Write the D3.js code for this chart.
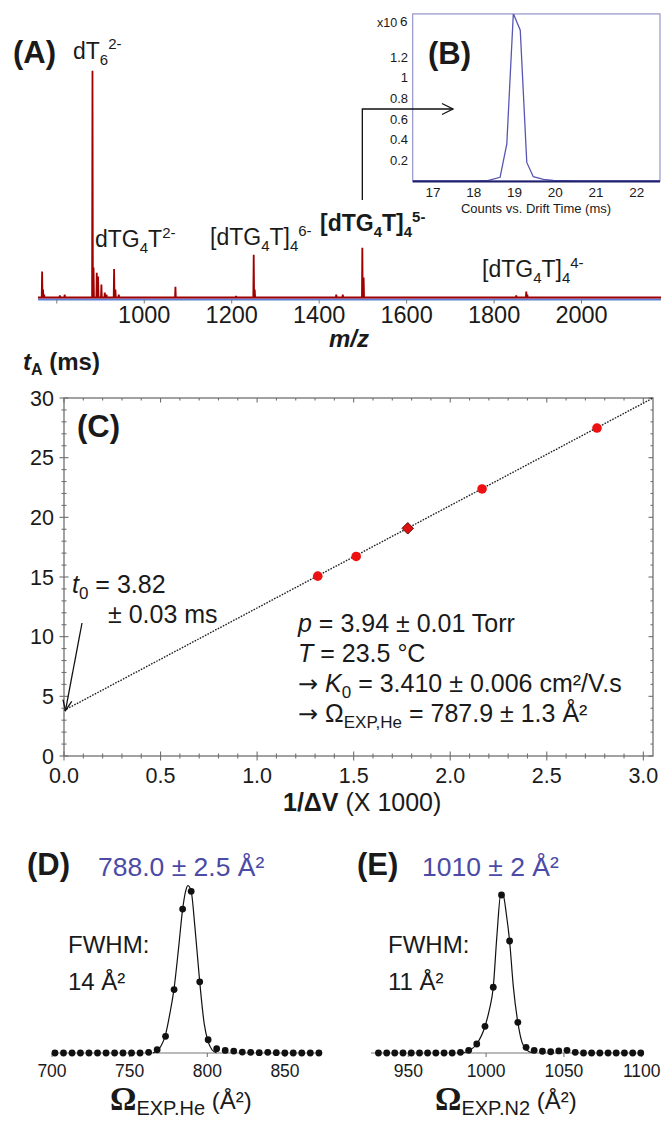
<!DOCTYPE html>
<html><head><meta charset="utf-8">
<script src="https://cdn.jsdelivr.net/npm/d3@7/dist/d3.min.js"></script>
<style>
html,body{margin:0;padding:0;background:#fff;}
svg{display:block;font-family:'Liberation Sans',Arial,Helvetica,sans-serif;}
</style></head><body>
<svg id="fig" width="661" height="1121"></svg>
<script>
// ---------- Panel A: mass spectrum ----------
const specMz  = [766.4, 768.5, 771, 807, 818, 881.6, 884, 891.4, 894.4, 902, 909.7, 913.6, 931, 934, 941.7, 1071.3, 1210, 1250.3, 1252.6, 1439, 1454, 1498.7, 1501.7, 1850.7, 1873.6, 1876];
const specInt = [11.5, 3.5, 1.3, 0.9, 1.3, 100, 13.2, 10.9, 9.3, 5.7, 2.2, 1.3, 12.6, 3.5, 1.3, 4.7, 0.7, 18.9, 3.5, 1.3, 1.3, 21.9, 8.8, 0.9, 2.6, 1.3];
const mzTickMarks = [800, 1000, 1200, 1400, 1600, 1800, 2000];
const mzTickLabels = [1000, 1200, 1400, 1600, 1800, 2000];
const mzDomain = [757, 2184];
const selectedPeakMz = 1498.7;

// ---------- Panel B: arrival time distribution ----------
const driftTime = [16.5, 18.0, 18.36, 18.645, 18.81, 18.97, 19.14, 19.3, 19.46, 19.71, 19.95, 20.5, 22.57];
const driftCounts = [0, 0, 0.007, 0.036, 0.36, 1.62, 1.46, 0.18, 0.042, 0.016, 0.007, 0, 0];
const driftXTicks = [17, 18, 19, 20, 21, 22];
const driftYTicks = [0.2, 0.4, 0.6, 0.8, 1, 1.2];
const driftYLabels = ["0.2", "0.4", "0.6", "0.8", "1", "1.2"];

// ---------- Panel C: tA vs 1/ΔV ----------
const invDV = [1.314, 1.513, 2.165, 2.76];
const tA = [15.07, 16.72, 22.38, 27.48];
const diamondInvDV = [1.78];
const diamondTA = [19.08];
const fitInvDV = [0, 3.05];
const fitTA = [3.82, 30];
const cXTicks = [0, 0.5, 1.0, 1.5, 2.0, 2.5, 3.0];
const cYTicks = [0, 5, 10, 15, 20, 25, 30];

// ---------- Panel D: CCS distribution in He ----------
const ccsHe = [701.9, 707.4, 712.9, 718.3, 723.8, 729.3, 734.8, 740.3, 745.7, 751.2, 756.7, 762.2, 767.7, 773.1, 778.6, 784.1, 789.6, 795.1, 800.5, 806.0, 811.5, 817.0, 822.5, 827.9, 833.4, 838.9, 844.4, 849.9, 855.3, 860.8, 866.3, 871.8];
const intHe = [0, 0, 0, 0, 0, 0, 0, 0, 0, 0, 0, 0.004, 0.02, 0.103, 0.392, 0.89, 1.0, 0.44, 0.082, 0.027, 0.016, 0.012, 0.006, 0.004, 0.002, 0.004, 0.002, 0, 0, 0, 0, 0];
const fitHeX = [765, 770, 773, 776, 778.6, 781.5, 784.1, 786, 787.5, 789.6, 792, 795.1, 798, 800.5, 803, 806];
const fitHeY = [0, 0.04, 0.11, 0.25, 0.40, 0.65, 0.89, 1.0, 1.035, 1.0, 0.78, 0.44, 0.18, 0.07, 0.02, 0];
const dTicks = [700, 750, 800, 850];

// ---------- Panel E: CCS distribution in N2 ----------
const ccsN2 = [930.8, 936.1, 941.3, 946.6, 951.9, 957.2, 962.4, 967.7, 973.0, 978.2, 983.5, 988.8, 994.0, 999.3, 1004.6, 1009.9, 1015.1, 1020.4, 1025.7, 1030.9, 1036.2, 1041.5, 1046.7, 1052.0, 1057.3, 1062.6, 1067.8, 1073.1, 1078.4, 1083.6, 1088.9, 1094.2, 1099.4];
const intN2 = [0, 0, 0, 0, 0, 0, 0, 0, 0, 0, 0.004, 0.017, 0.057, 0.169, 0.416, 1.0, 0.709, 0.194, 0.036, 0.017, 0.011, 0.008, 0.013, 0.017, 0.004, 0, 0, 0, 0, 0, 0, 0, 0];
const fitN2X = [985, 990, 994, 999.3, 1002, 1004.6, 1007, 1009.5, 1011, 1013, 1015.1, 1017.5, 1020.4, 1023, 1026, 1030];
const fitN2Y = [0, 0.02, 0.057, 0.169, 0.27, 0.416, 0.75, 1.01, 1.0, 0.88, 0.709, 0.42, 0.194, 0.07, 0.02, 0];
const eTicks = [950, 1000, 1050, 1100];

// =====================================================
const svg = d3.select('#fig');
const SERIF = "'Liberation Serif','Times New Roman',serif";
const ARROWFONT = "'DejaVu Sans',sans-serif";
const TXT = '#1a1a1a';

// rich text helper: segs = [{t, size, off, weight, style, family, fill}]
function rich(g, x, y, segs, opt) {
  opt = opt || {};
  const t = g.append('text').attr('x', x).attr('y', y)
    .attr('font-size', opt.size || 20).attr('fill', opt.fill || TXT)
    .attr('font-weight', opt.weight || 'normal')
    .attr('text-anchor', opt.anchor || 'start');
  if (opt.family) t.attr('font-family', opt.family);
  let cur = 0;
  segs.forEach(s => {
    const off = s.off || 0;
    const ts = t.append('tspan').attr('dy', off - cur).text(s.t);
    if (s.size) ts.attr('font-size', s.size);
    if (s.weight) ts.attr('font-weight', s.weight);
    if (s.style) ts.attr('font-style', s.style);
    if (s.family) ts.attr('font-family', s.family);
    if (s.fill) ts.attr('fill', s.fill);
    if (s.dx) ts.attr('dx', s.dx);
    cur = off;
  });
  return t;
}

// ---------------- Panel A ----------------
const gA = svg.append('g');
const xA = d3.scaleLinear().domain(mzDomain).range([38, 662]);
const yA = d3.scaleLinear().domain([0, 100]).range([297.5, 70.7]);

gA.append('line').attr('x1', xA(mzDomain[0])).attr('x2', xA(mzDomain[1]))
  .attr('y1', yA(0) + 2).attr('y2', yA(0) + 2)
  .attr('stroke', '#5b7fd6').attr('stroke-width', 2);

gA.selectAll('line.mztick').data(mzTickMarks).enter().append('line')
  .attr('x1', d => xA(d)).attr('x2', d => xA(d))
  .attr('y1', yA(0) + 2).attr('y2', yA(0) + 6)
  .attr('stroke', '#777').attr('stroke-width', 1);

const specPts = [[mzDomain[0], 0]];
specMz.map((m, i) => [m, specInt[i]]).sort((a, b) => a[0] - b[0]).forEach(p => {
  specPts.push([p[0] - 0.9, 0], [p[0], p[1]], [p[0] + 0.9, 0]);
});
specPts.push([mzDomain[1], 0]);
gA.append('path').datum(specPts)
  .attr('d', d3.line().x(d => xA(d[0])).y(d => yA(d[1])))
  .attr('fill', 'none').attr('stroke', '#a00000').attr('stroke-width', 1.8)
  .attr('stroke-linejoin', 'miter');

gA.selectAll('text.mzlab').data(mzTickLabels).enter().append('text')
  .attr('x', d => xA(d)).attr('y', 323).attr('text-anchor', 'middle')
  .attr('font-size', 23.5).attr('fill', TXT).text(d => d);

gA.append('text').attr('x', 349).attr('y', 347).attr('text-anchor', 'middle')
  .attr('font-size', 24).attr('font-weight', 'bold').attr('font-style', 'italic')
  .attr('fill', TXT).text('m/z');

rich(gA, 13, 63, [{t: '(A)'}], {size: 31, weight: 'bold'});
rich(gA, 73, 59, [{t: 'dT'}, {t: '6', size: 15, off: 6}, {t: '2-', size: 15, off: -10}], {size: 23});
rich(gA, 95, 247, [{t: 'dTG'}, {t: '4', size: 15, off: 6}, {t: 'T'}, {t: '2-', size: 15, off: -9}], {size: 23});
rich(gA, 210, 245, [{t: '[dTG'}, {t: '4', size: 15, off: 6}, {t: 'T]'}, {t: '4', size: 15, off: 6}, {t: '6-', size: 15, off: -9}], {size: 23});
rich(gA, 320, 231, [{t: '[dTG'}, {t: '4', size: 15, off: 6}, {t: 'T]'}, {t: '4', size: 15, off: 6}, {t: '5-', size: 15, off: -9}], {size: 23, weight: 'bold'});
rich(gA, 482, 277, [{t: '[dTG'}, {t: '4', size: 15, off: 6}, {t: 'T]'}, {t: '4', size: 15, off: 6}, {t: '4-', size: 15, off: -9}], {size: 23});

// ---------------- Panel B ----------------
const gB = svg.append('g');
const xB = d3.scaleLinear().domain([16.5, 22.57]).range([412.7, 660]);
const yB = d3.scaleLinear().domain([0, 1.2]).range([181, 57]);
const topB = yB(1.617);
gB.append('rect').attr('x', xB(16.5)).attr('y', topB)
  .attr('width', xB(22.57) - xB(16.5)).attr('height', yB(0) - topB)
  .attr('fill', '#fff').attr('stroke', '#9494cc').attr('stroke-width', 1.2);
gB.append('clipPath').attr('id', 'clipB').append('rect')
  .attr('x', xB(16.5)).attr('y', topB).attr('width', xB(22.57) - xB(16.5)).attr('height', yB(0) - topB + 1);
gB.append('path').datum(driftTime.map((d, i) => [d, driftCounts[i]]))
  .attr('clip-path', 'url(#clipB)')
  .attr('d', d3.line().x(d => xB(d[0])).y(d => yB(d[1])))
  .attr('fill', 'none').attr('stroke', '#5757b3').attr('stroke-width', 1.3);
gB.append('line').attr('x1', xB(16.5)).attr('x2', xB(22.57))
  .attr('y1', yB(0) + 0.5).attr('y2', yB(0) + 0.5)
  .attr('stroke', '#1f1f6b').attr('stroke-width', 2);
gB.selectAll('text.by').data(driftYTicks).enter().append('text')
  .attr('x', 408).attr('y', d => yB(d)).attr('dy', '0.36em').attr('text-anchor', 'end')
  .attr('font-size', 13).attr('fill', TXT).text((d, i) => driftYLabels[i]);
gB.selectAll('text.bx').data(driftXTicks).enter().append('text')
  .attr('x', d => xB(d)).attr('y', 197).attr('text-anchor', 'middle')
  .attr('font-size', 13.5).attr('fill', TXT).text(d => d);
gB.append('text').attr('x', 536).attr('y', 213).attr('text-anchor', 'middle')
  .attr('font-size', 13).attr('fill', TXT).text('Counts vs. Drift Time (ms)');
gB.append('text').attr('x', 377).attr('y', 27).attr('font-size', 12.5).attr('fill', TXT).text('x10');
gB.append('text').attr('x', 400).attr('y', 26).attr('font-size', 13.5).attr('fill', TXT).text('6');
rich(gB, 428, 64, [{t: '(B)'}], {size: 31, weight: 'bold'});

// arrow from selected peak to inset
const ax = xA(selectedPeakMz);
svg.append('path').attr('d', `M${ax},200 V109 H453`)
  .attr('fill', 'none').attr('stroke', '#111').attr('stroke-width', 1.3);
svg.append('path').attr('d', 'M442,103.5 L453,109 L442,114.5')
  .attr('fill', 'none').attr('stroke', '#111').attr('stroke-width', 1.3);

// ---------------- Panel C ----------------
const gC = svg.append('g');
const xC = d3.scaleLinear().domain([0, 3.05]).range([64, 653]);
const yC = d3.scaleLinear().domain([0, 30]).range([756, 398]);
const AX = '#707070';
gC.append('rect').attr('x', xC(0)).attr('y', yC(30))
  .attr('width', xC(3.05) - xC(0)).attr('height', yC(0) - yC(30))
  .attr('fill', 'none').attr('stroke', AX).attr('stroke-width', 1.3);

const xMinor = d3.range(0, 31).map(i => i / 10);
const yMinor = d3.range(0, 31);
xMinor.forEach((v, i) => {
  const major = i % 5 === 0;
  const L = major ? 4.5 : 2.5;
  gC.append('line').attr('x1', xC(v)).attr('x2', xC(v))
    .attr('y1', yC(0) - L).attr('y2', yC(0) + L).attr('stroke', AX).attr('stroke-width', 1.1);
  gC.append('line').attr('x1', xC(v)).attr('x2', xC(v))
    .attr('y1', yC(30)).attr('y2', yC(30) + L).attr('stroke', AX).attr('stroke-width', 1.1);
});
yMinor.forEach((v, i) => {
  const major = i % 5 === 0;
  const L = major ? 4.5 : 2.5;
  gC.append('line').attr('x1', xC(0) - L).attr('x2', xC(0) + L)
    .attr('y1', yC(v)).attr('y2', yC(v)).attr('stroke', AX).attr('stroke-width', 1.1);
  gC.append('line').attr('x1', xC(3.05) - L).attr('x2', xC(3.05))
    .attr('y1', yC(v)).attr('y2', yC(v)).attr('stroke', AX).attr('stroke-width', 1.1);
});
gC.selectAll('text.cx').data(cXTicks).enter().append('text')
  .attr('x', d => xC(d)).attr('y', 783).attr('text-anchor', 'middle')
  .attr('font-size', 21.5).attr('fill', TXT).text(d => d.toFixed(1));
gC.selectAll('text.cy').data(cYTicks).enter().append('text')
  .attr('x', 54).attr('y', d => yC(d)).attr('dy', '0.36em').attr('text-anchor', 'end')
  .attr('font-size', 21.5).attr('fill', TXT).text(d => d);

gC.append('path').datum(fitInvDV.map((d, i) => [d, fitTA[i]]))
  .attr('d', d3.line().x(d => xC(d[0])).y(d => yC(d[1])))
  .attr('fill', 'none').attr('stroke', '#222').attr('stroke-width', 1.4)
  .attr('stroke-dasharray', '1.6,1.3');
gC.selectAll('circle.pt').data(invDV.map((d, i) => [d, tA[i]])).enter().append('circle')
  .attr('cx', d => xC(d[0])).attr('cy', d => yC(d[1])).attr('r', 4.8)
  .attr('fill', '#ee1111');
gC.selectAll('path.dia').data(diamondInvDV.map((d, i) => [d, diamondTA[i]])).enter().append('path')
  .attr('d', d3.symbol().type(d3.symbolDiamond2 || d3.symbolDiamond).size(85))
  .attr('transform', d => `translate(${xC(d[0])},${yC(d[1])})`)
  .attr('fill', '#e01010').attr('stroke', '#5a1010').attr('stroke-width', 1);

rich(gC, 23, 370, [{t: 't', style: 'italic'}, {t: 'A', size: 16, off: 5}, {t: ' (ms)', off: 0}], {size: 24, weight: 'bold'});
rich(gC, 77, 437, [{t: '(C)'}], {size: 31, weight: 'bold'});
rich(gC, 72, 593, [{t: 't', style: 'italic'}, {t: '0', size: 17, off: 6}, {t: ' = 3.82', off: 0}], {size: 25});
rich(gC, 108, 623, [{t: '± 0.03 ms'}], {size: 25});

// annotation arrow to intercept
const tipX = xC(fitInvDV[0]) + 1.5, tipY = yC(fitTA[0]);
const tailX = 82, tailY = 623;
gC.append('line').attr('x1', tailX).attr('y1', tailY).attr('x2', tipX).attr('y2', tipY)
  .attr('stroke', '#111').attr('stroke-width', 1.3);
(function () {
  const ang = Math.atan2(tailY - tipY, tailX - tipX);
  const L = 11, a = 0.42;
  const p1 = [tipX + L * Math.cos(ang + a), tipY + L * Math.sin(ang + a)];
  const p2 = [tipX + L * Math.cos(ang - a), tipY + L * Math.sin(ang - a)];
  gC.append('path').attr('d', `M${p1[0]},${p1[1]} L${tipX},${tipY} L${p2[0]},${p2[1]}`)
    .attr('fill', 'none').attr('stroke', '#111').attr('stroke-width', 1.3);
})();

rich(gC, 298, 632, [{t: 'p', style: 'italic'}, {t: ' = 3.94 ± 0.01 Torr'}], {size: 25});
rich(gC, 298, 662, [{t: 'T', style: 'italic'}, {t: ' = 23.5 °C'}], {size: 25});
rich(gC, 298, 692, [{t: '→', family: ARROWFONT, size: 24}, {t: ' '}, {t: 'K', style: 'italic'}, {t: '0', size: 17, off: 6}, {t: ' = 3.410 ± 0.006 cm²/V.s', off: 0}], {size: 25});
rich(gC, 298, 722, [{t: '→', family: ARROWFONT, size: 24}, {t: ' Ω'}, {t: 'EXP,He', size: 17, off: 6}, {t: ' = 787.9 ± 1.3 Å²', off: 0}], {size: 25});
rich(gC, 283, 811, [{t: '1/ΔV', weight: 'bold'}, {t: ' (X 1000)'}], {size: 25});

// ---------------- Panels D & E ----------------
function ccsPanel(cfg) {
  const g = svg.append('g');
  const x = d3.scaleLinear().domain(cfg.tickDomain).range(cfg.tickRange);
  const y = d3.scaleLinear().domain([0, 1]).range([1053, 1053 - cfg.peakPx]);
  g.append('line').attr('x1', x(cfg.axis[0])).attr('x2', x(cfg.axis[1]))
    .attr('y1', y(0)).attr('y2', y(0)).attr('stroke', '#777').attr('stroke-width', 1.2);
  g.selectAll('line.t').data(cfg.ticks).enter().append('line')
    .attr('x1', d => x(d)).attr('x2', d => x(d)).attr('y1', y(0)).attr('y2', y(0) + 4)
    .attr('stroke', '#777').attr('stroke-width', 1.1);
  g.selectAll('text.t').data(cfg.ticks).enter().append('text')
    .attr('x', d => x(d)).attr('y', 1077).attr('text-anchor', 'middle')
    .attr('font-size', 17.5).attr('fill', TXT).text(d => d);
  g.append('path').datum(cfg.fitX.map((d, i) => [d, cfg.fitY[i]]))
    .attr('d', d3.line().curve(d3.curveMonotoneX).x(d => x(d[0])).y(d => y(d[1])))
    .attr('fill', 'none').attr('stroke', '#111').attr('stroke-width', 1.2);
  g.selectAll('circle').data(cfg.xs.map((d, i) => [d, cfg.ys[i]])).enter().append('circle')
    .attr('cx', d => x(d[0])).attr('cy', d => y(d[1])).attr('r', 3.4).attr('fill', '#111');
  rich(g, cfg.labX, 875, [{t: cfg.label}], {size: 31, weight: 'bold'});
  rich(g, cfg.valX, 876, [{t: cfg.value}], {size: 26.5, fill: '#4b4aa6'});
  rich(g, cfg.fwX, 953, [{t: 'FWHM:'}], {size: 24});
  rich(g, cfg.fwX, 990, [{t: cfg.fwhm}], {size: 24});
  rich(g, cfg.omX, 1110, [
    {t: 'Ω', family: SERIF, weight: 'bold', size: 33},
    {t: cfg.sub, size: 20, off: 5},
    {t: ' (Å²)', size: 24, off: -1}
  ], {size: 24});
}
ccsPanel({
  tickDomain: [700, 850], tickRange: [52, 285], axis: [700, 874], ticks: dTicks,
  peakPx: 161.7, xs: ccsHe, ys: intHe, fitX: fitHeX, fitY: fitHeY,
  label: '(D)', labX: 27, value: '788.0 ± 2.5 Å²', valX: 98,
  fwX: 68, fwhm: '14 Å²', omX: 110, sub: 'EXP.He'
});
ccsPanel({
  tickDomain: [950, 1100], tickRange: [408.3, 641.7], axis: [926, 1100], ticks: eTicks,
  peakPx: 158, xs: ccsN2, ys: intN2, fitX: fitN2X, fitY: fitN2Y,
  label: '(E)', labX: 357, value: '1010 ± 2 Å²', valX: 422,
  fwX: 388, fwhm: '11 Å²', omX: 435, sub: 'EXP.N2'
});
</script>
</body></html>
